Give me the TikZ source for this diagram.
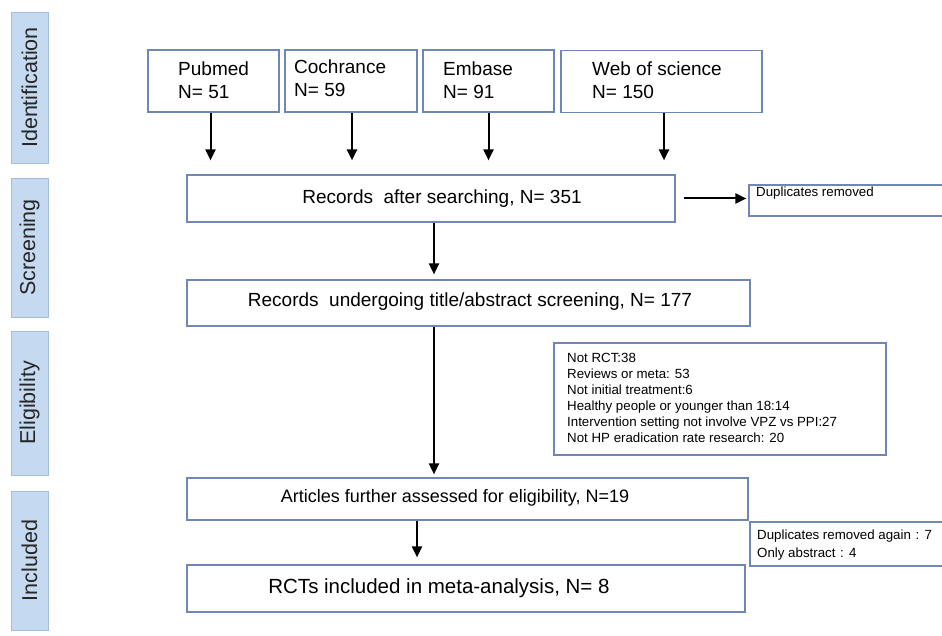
\documentclass[tikz,border=0pt]{standalone}
\usepackage{fontspec}
\setmainfont{Liberation Sans}
\usetikzlibrary{arrows.meta}
\definecolor{boxline}{HTML}{6F86B6}
\definecolor{sidefill}{HTML}{C5D9F1}
\definecolor{sideline}{HTML}{A3BCDF}
\tikzset{
  flowbox/.style={draw=boxline, line width=1.2pt, rectangle, inner sep=0pt, fill=white},
  sidebox/.style={draw=sideline, fill=sidefill, line width=0.8pt, rectangle, inner sep=0pt, rotate=90,
    font=\fontsize{21.5}{25}\selectfont, text=black!85},
  bigtext/.style={inner sep=0pt, font=\fontsize{19}{23}\selectfont, align=left},
  smalltext/.style={inner sep=0pt, font=\fontsize{13.3}{16}\selectfont, align=left},
  arr/.style={line width=2pt, -{Triangle[length=11pt,width=10pt]}},
}
\begin{document}
\begin{tikzpicture}[x=1pt,y=-1pt]
\useasboundingbox (0,0) rectangle (942,636);

% side labels
\node[sidebox, minimum width=151pt, minimum height=37pt] (s1) at (29.5,87.5) {Identification};
\node[sidebox, minimum width=139pt, minimum height=37pt] (s2) at (29.5,247.5) {Screening};
\node[sidebox, minimum width=144pt, minimum height=37pt] (s3) at (29.5,403) {Eligibility};
\node[sidebox, minimum width=139pt, minimum height=37pt] (s4) at (29.5,560.5) {Included};

% source boxes
\node[flowbox, minimum width=131pt, minimum height=62pt] (pub) at (213.5,81) {};
\node[flowbox, minimum width=132pt, minimum height=62pt] (coc) at (351,81) {};
\node[flowbox, minimum width=131pt, minimum height=62pt] (emb) at (488.5,81) {};
\node[flowbox, minimum width=201pt, minimum height=62pt] (web) at (661.5,81.5) {};
\node[bigtext, anchor=west] (pubt) at (178,80.5) {Pubmed\\N= 51};
\node[bigtext, anchor=west] (coct) at (294,78.5) {Cochrance\\N= 59};
\node[bigtext, anchor=west] (embt) at (443,80) {Embase\\N= 91};
\node[bigtext, anchor=west] (webt) at (592,80) {Web of science\\N= 150};

% main boxes
\node[flowbox, minimum width=488pt, minimum height=47pt] (rec) at (431,198.5) {};
\node[bigtext] (rect) at (442,199) {Records\ \ after searching, N= 351};
\node[flowbox, minimum width=563pt, minimum height=46pt] (und) at (468.5,303) {};
\node[bigtext] (undt) at (470,302) {Records\ \ undergoing title/abstract screening, N= 177};
\node[flowbox, minimum width=561pt, minimum height=42pt] (art) at (467.5,499) {};
\node[bigtext, font=\fontsize{18}{22}\selectfont] (artt) at (455,498) {Articles further assessed for eligibility, N=19};
\node[flowbox, minimum width=558pt, minimum height=47pt] (rct) at (466,588.5) {};
\node[bigtext, font=\fontsize{20.5}{24}\selectfont] (rctt) at (439,588) {RCTs included in meta-analysis, N= 8};

% side boxes
\node[flowbox, minimum width=195pt, minimum height=31pt] (dup1) at (846.5,200.5) {};
\node[smalltext, anchor=north west] (dup1t) at (756,186.5) {Duplicates removed};
\node[flowbox, minimum width=332pt, minimum height=112pt] (exc) at (720,399) {};
\node[smalltext, anchor=north west] (exct) at (567,353) {Not RCT:38\\Reviews or meta: 53\\Not initial treatment:6\\Healthy people or younger than 18:14\\Intervention setting not involve VPZ vs PPI:27\\Not HP eradication rate research: 20};
\node[flowbox, minimum width=194pt, minimum height=44pt] (dup2) at (847,544) {};
\node[smalltext, anchor=north west, font=\fontsize{13.3}{17.5}\selectfont] (dup2t) at (757,530) {Duplicates removed again\hspace{0.35em}:\hspace{0.4em}7\\Only abstract\hspace{0.35em}:\hspace{0.4em}4};

% arrows
\draw[arr, shorten >=14pt] ([xshift=-3pt]pub.south) -- ([xshift=-3pt]pub.south |- rec.north);
\draw[arr, shorten >=14pt] ([xshift=1pt]coc.south) -- ([xshift=1pt]coc.south |- rec.north);
\draw[arr, shorten >=14pt] (emb.south) -- (emb.south |- rec.north);
\draw[arr, shorten >=14pt] ([xshift=2.5pt]web.south) -- ([xshift=2.5pt]web.south |- rec.north);
\draw[arr, shorten <=8pt, shorten >=2pt] (rec.east) -- (rec.east -| dup1.west);
\draw[arr, shorten >=5pt] ([xshift=3pt]rec.south) -- ([xshift=3pt]rec.south |- und.north);
\draw[arr, shorten >=3pt] ([xshift=-34.5pt]und.south) -- ([xshift=-34.5pt]und.south |- art.north);
\draw[arr, shorten >=7pt] ([xshift=-50.5pt]art.south) -- ([xshift=-50.5pt]art.south |- rct.north);
\end{tikzpicture}
\end{document}
